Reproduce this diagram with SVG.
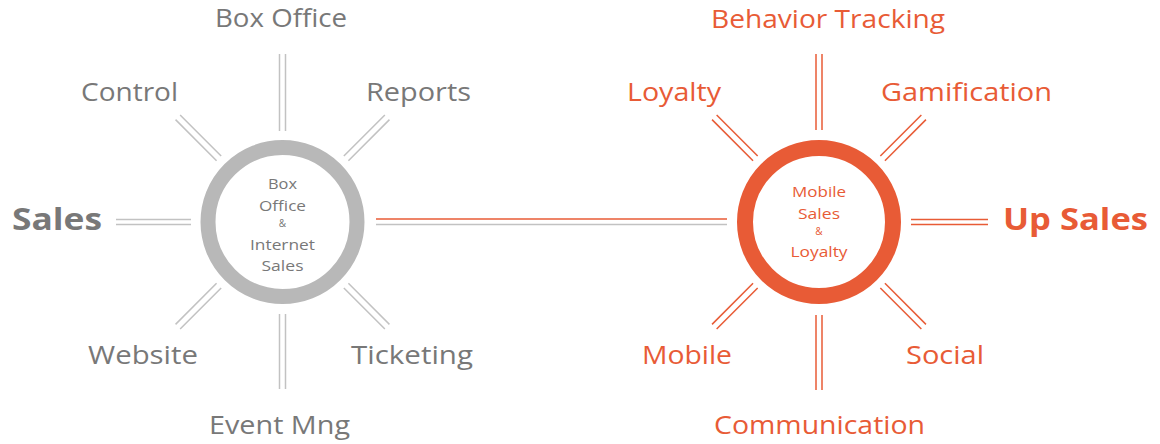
<svg xmlns="http://www.w3.org/2000/svg" width="1160" height="444" viewBox="0 0 1160 444">
<style>
text{font-family:"Open Sans","Noto Sans","Liberation Sans",sans-serif;}
.lbl{font-size:26px;}
.big{font-size:31px;font-weight:bold;}
.in{font-size:15px;text-anchor:middle;}
.amp{font-size:10px;text-anchor:middle;}
.g{fill:#787878;}
.o{fill:#E85B36;}
.gl{stroke:#c2c2c2;stroke-width:1.5;fill:none;}
.ol{stroke:#E85B36;stroke-width:1.5;fill:none;}
.mid{text-anchor:middle;}
</style>
<defs>
<g id="diagG"><line class="gl" x1="-148" y1="-3.25" x2="-90" y2="-3.25"/><line class="gl" x1="-148" y1="3.25" x2="-90" y2="3.25"/></g>
<g id="diagO"><line class="ol" x1="-148" y1="-3.25" x2="-90" y2="-3.25"/><line class="ol" x1="-148" y1="3.25" x2="-90" y2="3.25"/></g>
</defs>
<rect width="1160" height="444" fill="#fff"/>
<g id="connectors">
<line class="ol" x1="376" y1="219" x2="727" y2="219"/>
<line class="gl" x1="376" y1="224.5" x2="727" y2="224.5"/>
<!-- left spokes -->
<line class="gl" x1="279.5" y1="54" x2="279.5" y2="131"/><line class="gl" x1="285.5" y1="54" x2="285.5" y2="131"/>
<line class="gl" x1="279.5" y1="314" x2="279.5" y2="389"/><line class="gl" x1="285.5" y1="314" x2="285.5" y2="389"/>
<line class="gl" x1="116" y1="219.5" x2="191" y2="219.5"/><line class="gl" x1="116" y1="224.5" x2="191" y2="224.5"/>
<use href="#diagG" transform="translate(282.5 222) rotate(45)"/>
<use href="#diagG" transform="translate(282.5 222) rotate(135)"/>
<use href="#diagG" transform="translate(282.5 222) rotate(225)"/>
<use href="#diagG" transform="translate(282.5 222) rotate(315)"/>
<!-- right spokes -->
<line class="ol" x1="816" y1="54" x2="816" y2="130"/><line class="ol" x1="822" y1="54" x2="822" y2="130"/>
<line class="ol" x1="816" y1="315" x2="816" y2="390"/><line class="ol" x1="822" y1="315" x2="822" y2="390"/>
<line class="ol" x1="911" y1="219.5" x2="988" y2="219.5"/><line class="ol" x1="911" y1="224.5" x2="988" y2="224.5"/>
<use href="#diagO" transform="translate(819 222) rotate(45)"/>
<use href="#diagO" transform="translate(819 222) rotate(135)"/>
<use href="#diagO" transform="translate(819 222) rotate(225)"/>
<use href="#diagO" transform="translate(819 222) rotate(315)"/>
</g>
<g id="hub-left">
<circle cx="282.5" cy="222" r="74.5" fill="none" stroke="#b8b8b8" stroke-width="15"/>
<text class="in g" x="282.5" y="189" textLength="29" lengthAdjust="spacingAndGlyphs">Box</text>
<text class="in g" x="282.5" y="211" textLength="47" lengthAdjust="spacingAndGlyphs">Office</text>
<text class="amp g" x="282.5" y="227">&amp;</text>
<text class="in g" x="282.5" y="250" textLength="65" lengthAdjust="spacingAndGlyphs">Internet</text>
<text class="in g" x="282.5" y="271" textLength="42" lengthAdjust="spacingAndGlyphs">Sales</text>
</g>
<g id="hub-right">
<circle cx="819" cy="222" r="74" fill="none" stroke="#E85B36" stroke-width="16"/>
<text class="in o" x="819" y="197" textLength="54" lengthAdjust="spacingAndGlyphs">Mobile</text>
<text class="in o" x="819" y="219" textLength="42" lengthAdjust="spacingAndGlyphs">Sales</text>
<text class="amp o" x="819" y="235">&amp;</text>
<text class="in o" x="819" y="257" textLength="57" lengthAdjust="spacingAndGlyphs">Loyalty</text>
</g>
<g id="n-box-office"><text class="lbl g mid" x="281" y="27" textLength="132" lengthAdjust="spacingAndGlyphs">Box Office</text></g>
<g id="n-control"><text class="lbl g mid" x="129.5" y="101" textLength="97" lengthAdjust="spacingAndGlyphs">Control</text></g>
<g id="n-reports"><text class="lbl g mid" x="418.5" y="101" textLength="105" lengthAdjust="spacingAndGlyphs">Reports</text></g>
<g id="n-sales"><text class="big g" x="12" y="229.5" textLength="90" lengthAdjust="spacingAndGlyphs">Sales</text></g>
<g id="n-website"><text class="lbl g mid" x="143" y="364" textLength="110" lengthAdjust="spacingAndGlyphs">Website</text></g>
<g id="n-ticketing"><text class="lbl g mid" x="412" y="364" textLength="122" lengthAdjust="spacingAndGlyphs">Ticketing</text></g>
<g id="n-event"><text class="lbl g mid" x="279.5" y="434" textLength="141" lengthAdjust="spacingAndGlyphs">Event Mng</text></g>
<g id="n-behavior"><text class="lbl o mid" x="828" y="28" textLength="234" lengthAdjust="spacingAndGlyphs">Behavior Tracking</text></g>
<g id="n-loyalty"><text class="lbl o mid" x="674" y="101" textLength="94" lengthAdjust="spacingAndGlyphs">Loyalty</text></g>
<g id="n-gamification"><text class="lbl o mid" x="966.5" y="101" textLength="171" lengthAdjust="spacingAndGlyphs">Gamification</text></g>
<g id="n-upsales"><text class="big o" x="1003" y="229.5" textLength="145" lengthAdjust="spacingAndGlyphs">Up Sales</text></g>
<g id="n-mobile"><text class="lbl o mid" x="687" y="364" textLength="90" lengthAdjust="spacingAndGlyphs">Mobile</text></g>
<g id="n-social"><text class="lbl o mid" x="945" y="364" textLength="78" lengthAdjust="spacingAndGlyphs">Social</text></g>
<g id="n-communication"><text class="lbl o mid" x="819.5" y="434" textLength="211" lengthAdjust="spacingAndGlyphs">Communication</text></g>
</svg>
